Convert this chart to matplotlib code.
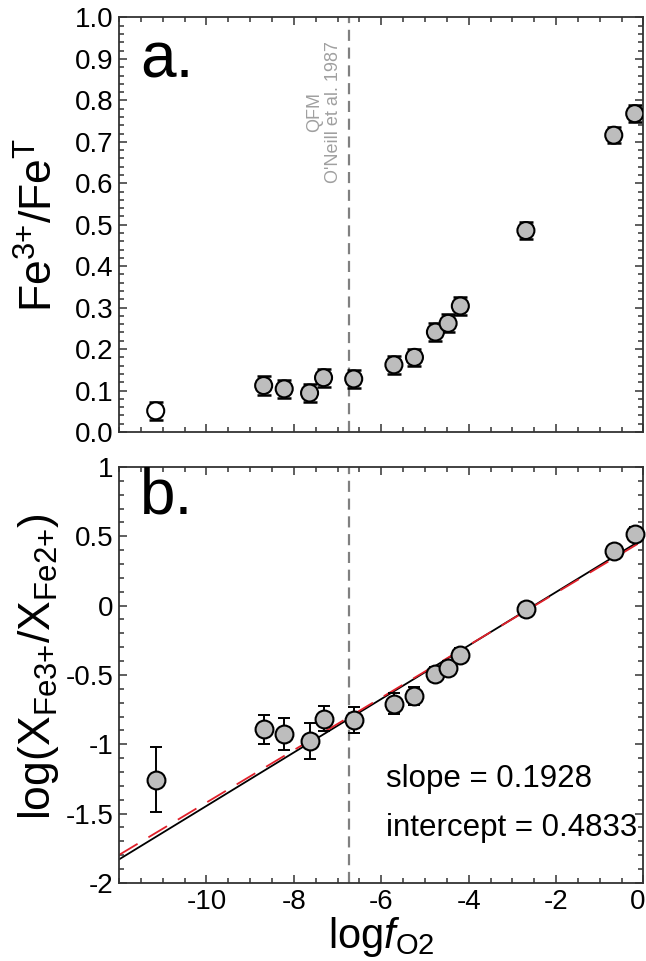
import matplotlib
matplotlib.use('Agg')
import matplotlib.pyplot as plt
from matplotlib.ticker import MultipleLocator, FixedLocator, FuncFormatter
from matplotlib.transforms import ScaledTranslation

plt.rcParams['font.family'] = ['Liberation Sans', 'DejaVu Sans']
plt.rcParams['mathtext.fontset'] = 'custom'
plt.rcParams['mathtext.rm'] = 'Liberation Sans'
plt.rcParams['mathtext.it'] = 'Liberation Sans:italic'
plt.rcParams['mathtext.bf'] = 'Liberation Sans:bold'
plt.rcParams['axes.unicode_minus'] = False

# Data
log_fo2 = [-11.16, -8.69, -8.22, -7.64, -7.32, -6.63, -5.71, -5.24, -4.76, -4.47, -4.19, -2.69, -0.68, -0.20]
fe3_fet = [0.051, 0.112, 0.104, 0.094, 0.131, 0.128, 0.162, 0.180, 0.241, 0.262, 0.304, 0.486, 0.716, 0.768]
fe3_fet_err = [0.022, 0.022, 0.022, 0.022, 0.022, 0.021, 0.021, 0.021, 0.022, 0.022, 0.022, 0.021, 0.02, 0.02]
log_ratio = [-1.255, -0.893, -0.926, -0.976, -0.814, -0.826, -0.707, -0.652, -0.493, -0.45, -0.355, -0.024, 0.395, 0.514]
log_ratio_err = [0.236, 0.107, 0.118, 0.127, 0.092, 0.095, 0.078, 0.065, 0.05, 0.05, 0.05, 0.035, 0.045, 0.05]

x_ticks = [-10, -8, -6, -4, -2, 0]
qfm = -6.73
slope, intercept = 0.1928, 0.4833
slope_alt, intercept_alt = 0.189, 0.47
x_range = [-12, 0]

grey_fill = '#bdbdbd'

fig = plt.figure(figsize=(6.46, 9.61), dpi=100)
ax1 = fig.add_axes([0.1842, 0.5505, 0.8119, 0.4313])
ax2 = fig.add_axes([0.1842, 0.0812, 0.8119, 0.4329])


def style_axis(ax):
    ax.set_xlim(x_range)
    ax.xaxis.set_major_locator(FixedLocator(x_ticks))
    ax.xaxis.set_minor_locator(MultipleLocator(0.5))
    ax.tick_params(which='both', direction='in', top=True, right=True,
                   labelsize=20, width=1.1, color='#333333', pad=4)
    ax.tick_params(which='major', length=6)
    ax.tick_params(which='minor', length=3.5)
    for sp in ax.spines.values():
        sp.set_linewidth(1.3)
        sp.set_color('#333333')


# ==============================
# Panel a
# ==============================
style_axis(ax1)
ax1.set_ylim(0, 1)
ax1.yaxis.set_major_locator(MultipleLocator(0.1))
ax1.yaxis.set_minor_locator(MultipleLocator(0.02))
ax1.yaxis.set_major_formatter(FuncFormatter(lambda v, p: f'{v:.1f}'))
ax1.tick_params(axis='x', labelbottom=False)

ax1.axvline(qfm, color='#808080', lw=1.6, dashes=(5, 3), zorder=1)
ax1.annotate("QFM\nO'Neill et al. 1987", xy=(qfm, 0.772),
             xycoords=('data', 'axes fraction'), xytext=(-5, 0),
             textcoords='offset points', rotation=90, ha='right', va='center',
             multialignment='center', fontsize=13, color='#a0a0a0',
             linespacing=1.15)

face1 = ['white'] + [grey_fill] * (len(log_fo2) - 1)
ax1.errorbar(log_fo2, fe3_fet, yerr=fe3_fet_err, fmt='none', ecolor='black',
             elinewidth=1.4, capsize=5, capthick=1.8, zorder=2)
ax1.scatter(log_fo2, fe3_fet, s=150, c=face1, edgecolors='black',
            linewidths=1.5, zorder=3)

ax1.text(0.04, 0.856, 'a.', transform=ax1.transAxes, fontsize=46,
         va='baseline', ha='left')
ax1.set_ylabel('Fe$^{3{+}}$/Fe$^{\\mathrm{T}}$', fontsize=32)
ax1.yaxis.set_label_coords(-0.11, 0.5)

# ==============================
# Panel b
# ==============================
style_axis(ax2)
ax2.set_ylim(-2, 1)
ax2.yaxis.set_major_locator(MultipleLocator(0.5))
ax2.yaxis.set_minor_locator(MultipleLocator(0.1))
ax2.yaxis.set_major_formatter(FuncFormatter(lambda v, p: f'{v:g}'))

ax2.axvline(qfm, color='#808080', lw=1.6, dashes=(5, 3), zorder=1)

ax2.plot(x_range, [slope * x + intercept for x in x_range], color='black',
         lw=1.3, zorder=1.5)
ax2.plot(x_range, [slope_alt * x + intercept_alt for x in x_range],
         color='#e0202a', lw=1.3, dashes=(12, 7), zorder=1.6)

ax2.errorbar(log_fo2, log_ratio, yerr=log_ratio_err, fmt='none', ecolor='black',
             elinewidth=1.4, capsize=4, capthick=1.4, zorder=2)
ax2.scatter(log_fo2, log_ratio, s=165, c=grey_fill, edgecolors='black',
            linewidths=1.5, zorder=3, clip_on=False)

ax2.text(0.04, 0.887, 'b.', transform=ax2.transAxes, fontsize=46,
         va='baseline', ha='left')
ax2.text(0.509, 0.231, f'slope = {slope}', transform=ax2.transAxes,
         fontsize=22.5, va='baseline', ha='left')
ax2.text(0.509, 0.113, f'intercept = {intercept}', transform=ax2.transAxes,
         fontsize=22.5, va='baseline', ha='left')

ax2.set_ylabel('log(X$_{\\mathrm{Fe3{+}}}$/X$_{\\mathrm{Fe2{+}}}$)', fontsize=32)
ax2.yaxis.set_label_coords(-0.11, 0.52)
ax2.set_xlabel('log$f_{\\mathrm{O2}}$', fontsize=30, labelpad=0)

# nudge the "0" label so it stays inside the figure
fig.canvas.draw()
last = ax2.xaxis.get_majorticklabels()[-1]
last.set_transform(last.get_transform() + ScaledTranslation(-4 / 72, 0, fig.dpi_scale_trans))

fig.savefig('out.png', dpi=100)
